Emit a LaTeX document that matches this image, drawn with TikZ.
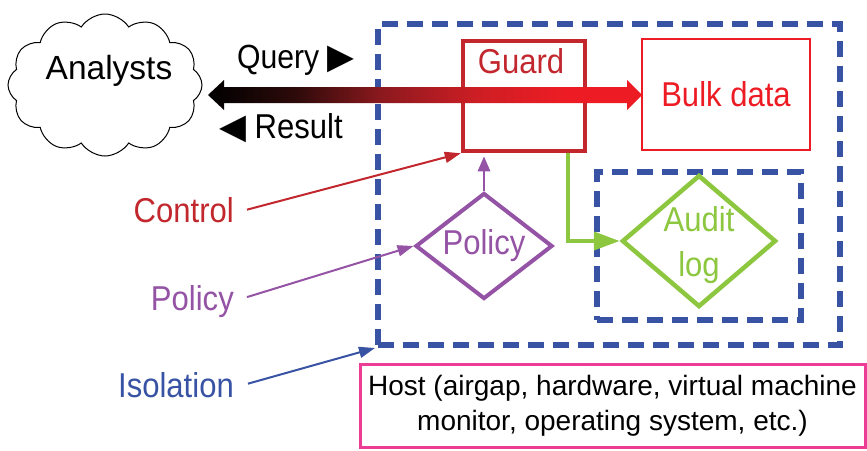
\documentclass[tikz,border=0pt]{standalone}
\usepackage{fontspec}
\setmainfont{Liberation Sans}
\newfontfamily\narrow{Liberation Sans}[FakeStretch=0.9]
\newfontfamily\symfont{DejaVu Sans}
\usetikzlibrary{shapes.geometric,shapes.symbols,arrows.meta,calc}

\definecolor{isoblue}{RGB}{57,83,164}
\definecolor{guardred}{RGB}{193,39,45}
\definecolor{bulkred}{RGB}{237,28,36}
\definecolor{polpurple}{RGB}{148,83,164}
\definecolor{audgreen}{RGB}{141,198,63}
\definecolor{hostpink}{RGB}{236,60,150}
\definecolor{flowA}{RGB}{45,10,10}
\definecolor{flowB}{RGB}{140,25,30}
\definecolor{flowC}{RGB}{205,30,36}

% black-to-red flow of the query/result arrow
\pgfdeclarehorizontalshading{flowshade}{100bp}{%
  color(0bp)=(black); color(25bp)=(black); color(35bp)=(flowA);
  color(45bp)=(flowB); color(56bp)=(flowC); color(66bp)=(bulkred);
  color(100bp)=(bulkred)}

\tikzset{
  lbl/.style={font={\narrow\fontsize{34.5}{45}\selectfont}, inner sep=0pt},
  isobox/.style={draw=isoblue, line width=6pt, dash pattern=on 16pt off 9pt,
    inner sep=0pt},
  thinarrow/.style={line width=2pt, -{Triangle[length=16pt,width=11pt]}},
}

\begin{document}
\begin{tikzpicture}[x=1pt,y=-1pt]
\useasboundingbox (0,0) rectangle (867,450);

% analysts cloud
\node[cloud, draw, line width=1pt, cloud puffs=12, cloud puff arc=115,
  aspect=1.36, minimum width=194pt, minimum height=142pt, inner sep=0pt]
  (analysts) at (105,85) {};
\node[font=\fontsize{33.5}{40}\selectfont, inner sep=0pt] (analyststxt)
  at (109,71) {Analysts};

% isolation boundaries
\node[isobox, minimum width=462pt, minimum height=321pt] (iso) at (609,184.5) {};
\node[isobox, line width=5.5pt, minimum width=204pt, minimum height=148pt]
  (auditbox) at (699,246) {};

% guard and bulk data
\node[draw=guardred, line width=4.5pt, minimum width=122pt, minimum height=110pt,
  inner sep=0pt] (guard) at (524,96) {};
\node[lbl, text=guardred] (guardlbl) at (521,61) {Guard};
\node[lbl, text=bulkred, draw=bulkred, line width=1.6pt, minimum width=168pt,
  minimum height=111pt] (bulk) at (726,94.5) {Bulk data};

% policy and audit log
\node[diamond, draw=polpurple, line width=4pt, aspect=1.3, minimum width=137pt,
  minimum height=106pt, inner sep=0pt, lbl, text=polpurple] (policy)
  at (484,246) {Policy};
\node[diamond, draw=audgreen, line width=4.5pt, minimum width=154pt,
  minimum height=132pt, inner sep=0pt] (audit) at (699,241) {};
\node[lbl, text=audgreen, align=center] (audittxt) at (699,245) {Audit\\log};

% query / result flow
\shade[shading=flowshade]
  (208,95) -- (224,80) -- (224,87) -- (627,87) -- (627,80) -- (642,95)
  -- (627,110) -- (627,103) -- (224,103) -- (224,110) -- cycle;
\node[lbl, font={\narrow\fontsize{33.5}{40}\selectfont}, anchor=base west]
  (query) at (237,68) {Query {\symfont\fontsize{35}{40}\selectfont ▶}};
\node[lbl, anchor=base west] (result) at (219,138)
  {{\symfont\fontsize{35}{40}\selectfont ◀} Result};

% internal connectors
\draw[polpurple, line width=2.8pt, -{Triangle[length=15pt,width=12pt]},
  shorten >=3pt] (policy.north) -- (policy.north |- guard.south);
\draw[audgreen, line width=4pt, -{Triangle[length=26pt,width=18pt]}]
  ([xshift=44pt]guard.south) |- (audit.west);

% legend labels
\node[lbl, text=guardred, anchor=base east] (ctl) at (234,222) {Control};
\node[lbl, text=polpurple, anchor=base east] (pollbl) at (234,310) {Policy};
\node[lbl, text=isoblue, anchor=base east] (isolbl) at (234,397) {Isolation};
\draw[thinarrow, guardred] ([xshift=13pt]ctl.east) -- (guard.south west);
\draw[thinarrow, polpurple] ([xshift=13pt,yshift=4pt]pollbl.east) -- (policy.west);
\draw[thinarrow, isoblue] ([xshift=14pt,yshift=1pt]isolbl.east) -- (iso.south west);

% host
\node[draw=hostpink, line width=3pt, minimum width=505pt, minimum height=83pt,
  inner sep=0pt, align=center, font=\fontsize{28}{35}\selectfont] (host)
  at (612.5,405.5) {Host (airgap, hardware, virtual machine\\monitor, operating system, etc.)};
\end{tikzpicture}
\end{document}
